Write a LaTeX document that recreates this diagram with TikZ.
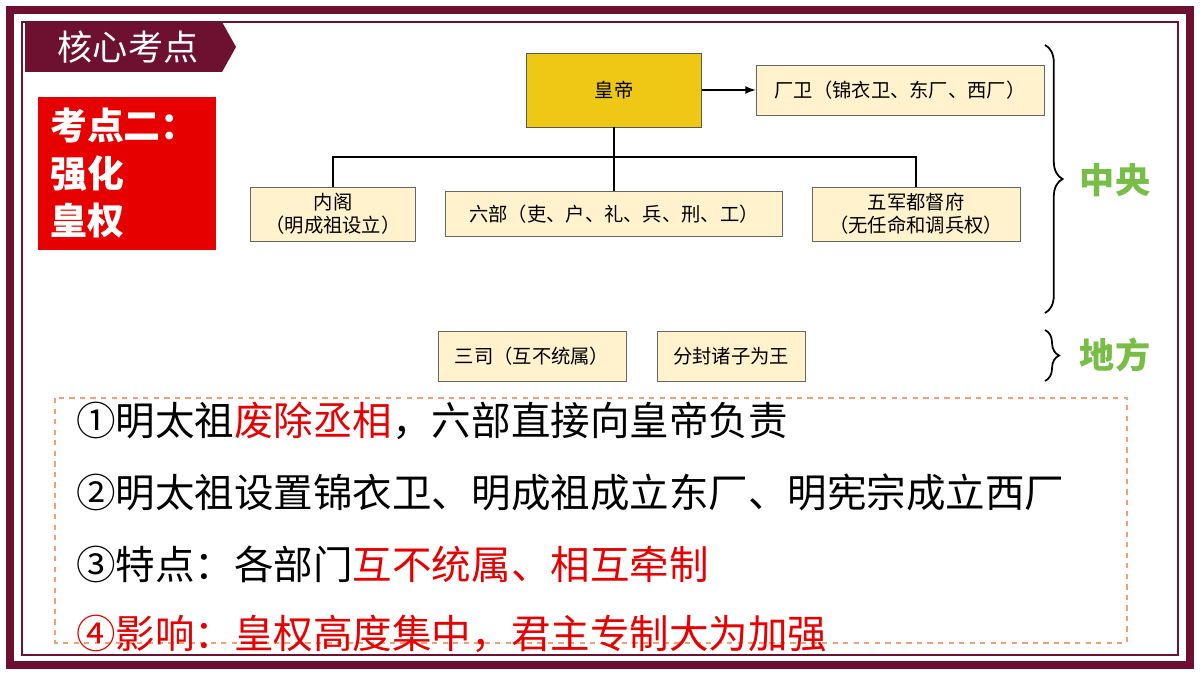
\documentclass[tikz,border=0pt]{standalone}
\usepackage{fontspec}
\usepackage{xcolor}
\setmainfont{Noto Sans CJK SC}
\usetikzlibrary{decorations.pathreplacing}
\definecolor{maroon}{RGB}{110, 16, 48}
\definecolor{gold}{RGB}{238, 200, 20}
\definecolor{beige}{RGB}{255, 242, 204}
\definecolor{green}{RGB}{120, 190, 70}
\definecolor{red}{RGB}{230, 0, 0}
\definecolor{orange}{RGB}{240, 160, 120}

\begin{document}
\begin{tikzpicture}[x=0.02cm, y=-0.02cm,
  org/.style={draw=gray!80!black, fill=beige, minimum height=1cm, align=center, font=\fontsize{11}{13}\selectfont},
  line/.style={line width=1pt},
  bigtext/.style={anchor=west, font=\fontsize{22.5}{26}\selectfont}]
\useasboundingbox (0,0) rectangle (1200,675);
\fill[white] (0,0) rectangle (1200,675);

% Frame
\draw[maroon, line width=5pt] (10,10) rectangle (1190,665);
\draw[maroon, line width=1.2pt] (22,22) rectangle (1178,655);
\fill[maroon] (25,22) -- (222,22) -- (236,47) -- (222,72) -- (25,72) -- cycle;
\node[white, font=\fontsize{20}{24}\selectfont] (tab) at (128,47) {核心考点};

% Topic box
\fill[red] (38,97) rectangle (216,250);
\node[white, anchor=north west, align=left, font=\bfseries\fontsize{21}{27}\selectfont] (topic) at (44,102) {考点二：\\强化\\皇权};

% Central
\node[draw=gray!70!black, fill=gold, minimum width=3.5cm, minimum height=1.48cm, font=\fontsize{11}{13}\selectfont] (emperor) at (614,90) {皇帝};
\node[org, minimum width=5.76cm] (guard) at (900,90) {厂卫（锦衣卫、东厂、西厂）};
\node[org, minimum width=3.3cm, minimum height=1.08cm] (cabinet) at (333,214) {内阁\\（明成祖设立）};
\node[org, minimum width=6.74cm, minimum height=0.9cm] (six) at (614,214) {六部（吏、户、礼、兵、刑、工）};
\node[org, minimum width=4.16cm, minimum height=1.08cm] (army) at (916,214) {五军都督府\\（无任命和调兵权）};
\draw[-latex, line] (emperor) -- (guard);
\coordinate (bus) at (614,157);
\draw[line] (emperor.south) -- (bus);
\draw[line] (cabinet.north) |- (bus) -| (army.north);
\draw[line] (bus) -- (six.north);

% Local
\node[org, minimum width=3.76cm] (sansi) at (532,356) {三司（互不统属）};
\node[org, minimum width=2.96cm] (fief) at (731,356) {分封诸子为王};

% Braces
\draw[decorate, decoration={brace, amplitude=10pt}, line] (1045,45) -- (1045,313);
\node[green, font=\bfseries\fontsize{20}{24}\selectfont] (central) at (1115,180) {中央};
\draw[decorate, decoration={brace, amplitude=8pt}, line] (1045,330) -- (1045,381);
\node[green, font=\bfseries\fontsize{20}{24}\selectfont] (local) at (1115,355) {地方};

% Notes
\draw[orange, dashed, line width=1pt] (55,398) rectangle (1127,643);
\node[bigtext] (n1) at (70,421) {①明太祖\textcolor{red}{废除丞相}，六部直接向皇帝负责};
\node[bigtext] (n2) at (70,492) {②明太祖设置锦衣卫、明成祖成立东厂、明宪宗成立西厂};
\node[bigtext] (n3) at (70,564) {③特点：各部门\textcolor{red}{互不统属、相互牵制}};
\node[bigtext, red] (n4) at (70,634) {④影响：皇权高度集中，君主专制大为加强};
\end{tikzpicture}
\end{document}
